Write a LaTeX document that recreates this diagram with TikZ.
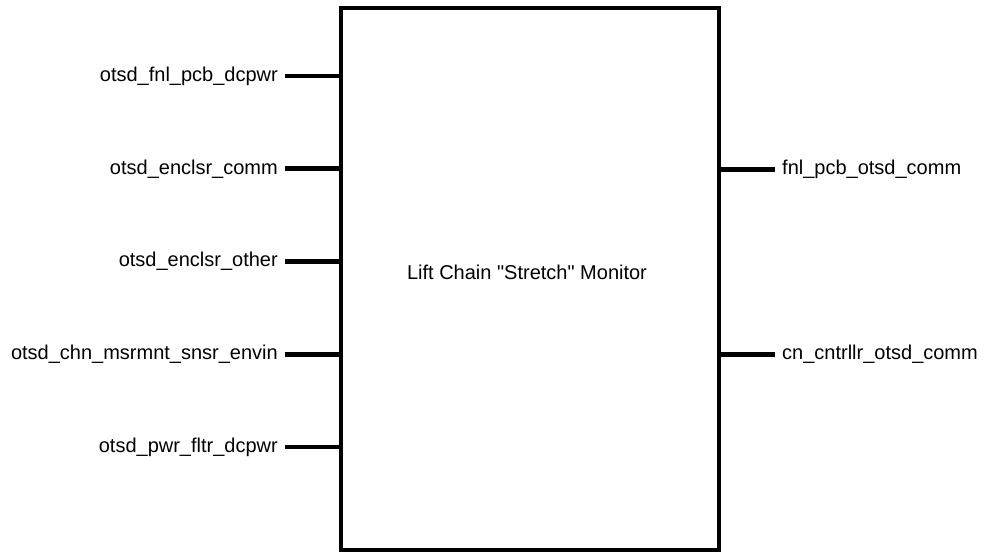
\documentclass[tikz,border=0pt]{standalone}
\usepackage{fontspec}
\setmainfont{Liberation Sans}
\usetikzlibrary{positioning, calc}

\begin{document}
\begin{tikzpicture}[
    x=1pt, y=-1pt,
    block/.style = {rectangle, draw=black, line width=4.8pt, fill=white,
                    minimum width=378pt, minimum height=542pt, inner sep=0pt},
    pinline/.style = {line width=4.8pt},
    pinlabel/.style = {font=\fontsize{20}{24}\selectfont, inner sep=0pt},
    title/.style = {font=\fontsize{20}{24}\selectfont, inner sep=0pt}
]
    \useasboundingbox (0,0) rectangle (984,552);

    % MAIN BLOCK
    \node[block] (monitor) at (530,279) {};
    \node[title] (monitor_name) at (527,272) {Lift Chain \textquotedbl Stretch\textquotedbl{} Monitor};

    % INPUT PINS
    \node[pinlabel, anchor=east] (in1) at (278,76) {otsd\_fnl\_pcb\_dcpwr};
    \node[pinlabel, anchor=east] (in2) at (278,168.75) {otsd\_enclsr\_comm};
    \node[pinlabel, anchor=east] (in3) at (278,261.5) {otsd\_enclsr\_other};
    \node[pinlabel, anchor=east] (in4) at (278,354.25) {otsd\_chn\_msrmnt\_snsr\_envin};
    \node[pinlabel, anchor=east] (in5) at (278,447) {otsd\_pwr\_fltr\_dcpwr};

    % OUTPUT PINS
    \node[pinlabel, anchor=west] (out1) at (782,169.5) {fnl\_pcb\_otsd\_comm};
    \node[pinlabel, anchor=west] (out2) at (782,354.25) {cn\_cntrllr\_otsd\_comm};

    % PIN LINES
    \foreach \p in {in1, in2, in3, in4, in5}
        \draw[pinline] ([xshift=7pt]\p.east) -- (monitor.west |- \p.east);
    \foreach \p in {out1, out2}
        \draw[pinline] ([xshift=-7pt]\p.west) -- (monitor.east |- \p.west);

\end{tikzpicture}
\end{document}
